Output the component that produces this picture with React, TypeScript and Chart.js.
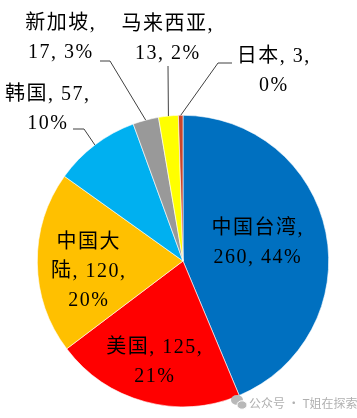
import React, { useEffect, useRef } from "react";
import { Chart, registerables } from "chart.js";
Chart.register(...registerables);

const categories = ["中国台湾", "美国", "中国大陆", "韩国", "新加坡", "马来西亚", "日本"];
const values = [260, 125, 120, 57, 17, 13, 3];
const percents = [44, 21, 20, 10, 3, 2, 0];
const colors = ["#0070C0", "#FF0000", "#FFC000", "#00B0F0", "#999999", "#FFFF00", "#C9452C"];
// where each label text wraps (character indices into "name, value, pct%")
const lineBreaks = [[5], [8], [3, 10], [7], [4], [5], [6]];
// label block centres, relative to the pie centre
const labelOffsets = [[74, -18], [-29, 101.5], [-95, 11], [-136, -151.5], [-123, -222.5], [-16, -222], [90, -189.5]];
// leader line points (relative to pie centre) before reaching the slice edge
const leaders: (number[][] | null)[] = [
  null, null, null,
  [[-110, -132], [-99, -132]],
  [[-83, -200], [-73, -200]],
  [[-15, -195]],
  [[49, -198], [35, -198]],
];

const FONT = '20px "Liberation Serif", "Noto Sans CJK SC", serif';
const LINE_H = 29;

function labelLines(i: number): string[] {
  const full = `${categories[i]}, ${values[i]}, ${percents[i]}%`;
  const out: string[] = [];
  let prev = 0;
  for (const b of lineBreaks[i]) {
    out.push(full.slice(prev, b).trim());
    prev = b;
  }
  out.push(full.slice(prev).trim());
  return out;
}

const labelPlugin = {
  id: "pieLabels",
  afterDatasetsDraw(chart: any) {
    const ctx = chart.ctx as CanvasRenderingContext2D;
    const meta = chart.getDatasetMeta(0);
    ctx.save();
    meta.data.forEach((arc: any, i: number) => {
      const p = arc.getProps(["x", "y", "startAngle", "endAngle", "outerRadius"], true);
      const cx = p.x, cy = p.y;
      const mid = (p.startAngle + p.endAngle) / 2;
      const pts = leaders[i];
      if (pts) {
        ctx.beginPath();
        ctx.strokeStyle = "#404040";
        ctx.lineWidth = 1;
        pts.forEach((q, k) => {
          if (k === 0) ctx.moveTo(cx + q[0], cy + q[1]);
          else ctx.lineTo(cx + q[0], cy + q[1]);
        });
        ctx.lineTo(cx + Math.cos(mid) * p.outerRadius, cy + Math.sin(mid) * p.outerRadius);
        ctx.stroke();
      }
      const lines = labelLines(i);
      const [dx, dy] = labelOffsets[i];
      ctx.font = FONT;
      (ctx as any).letterSpacing = "1.5px";
      ctx.fillStyle = "#000000";
      ctx.textAlign = "center";
      ctx.textBaseline = "middle";
      const top = cy + dy - ((lines.length - 1) * LINE_H) / 2;
      lines.forEach((t, k) => ctx.fillText(t, cx + dx + 0.75, top + k * LINE_H));
    });
    ctx.restore();
  },
  afterDraw(chart: any) {
    const ctx = chart.ctx as CanvasRenderingContext2D;
    ctx.save();
    // watermark icon
    ctx.fillStyle = "#b8b8b8";
    ctx.beginPath();
    ctx.ellipse(237, 400, 6, 5, 0, 0, Math.PI * 2);
    ctx.fill();
    ctx.strokeStyle = "#ffffff";
    ctx.lineWidth = 1;
    ctx.beginPath();
    ctx.ellipse(242, 405, 5, 4.2, 0, 0, Math.PI * 2);
    ctx.fill();
    ctx.stroke();
    ctx.font = '12px "Noto Sans CJK SC", sans-serif';
    ctx.fillStyle = "#b0b0b0";
    ctx.textAlign = "left";
    ctx.textBaseline = "middle";
    ctx.fillText("公众号 · T姐在探索", 249, 403);
    ctx.restore();
  },
};

export default function App() {
  const ref = useRef<HTMLCanvasElement>(null);
  useEffect(() => {
    if (!ref.current) return;
    const chart = new Chart(ref.current, {
      type: "pie",
      data: {
        labels: categories,
        datasets: [
          {
            data: values,
            backgroundColor: colors,
            borderColor: "#ffffff",
            borderWidth: 0.6,
            hoverOffset: 0,
          },
        ],
      },
      options: {
        responsive: false,
        animation: false,
        layout: { padding: { left: 37, right: 28, top: 115, bottom: 11 } },
        plugins: { legend: { display: false }, tooltip: { enabled: false } },
      },
      plugins: [labelPlugin],
    });
    return () => chart.destroy();
  }, []);
  return (
    <div style={{ position: "absolute", left: 0, top: 0, width: 357, height: 418, background: "#fff" }}>
      <canvas ref={ref} width={357} height={418} style={{ display: "block" }} />
    </div>
  );
}
